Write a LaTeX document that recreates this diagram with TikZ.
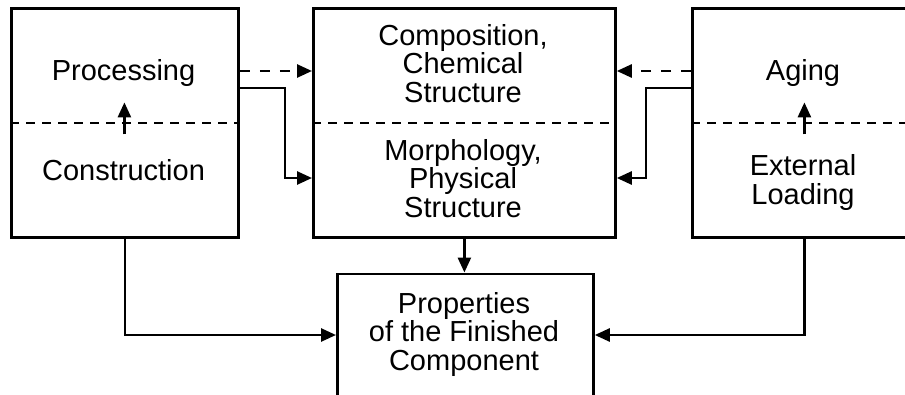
\documentclass[tikz,border=0pt]{standalone}
\usepackage{fontspec}
\setmainfont{Liberation Sans}
\usetikzlibrary{arrows.meta,calc}
\begin{document}
\begin{tikzpicture}[x=1pt,y=-1pt,
  box/.style={draw,line width=2.8pt,inner sep=0pt,anchor=north west},
  lbl/.style={font=\fontsize{29}{28.5}\selectfont,align=center,anchor=base,inner sep=0pt},
  sepline/.style={line width=2.6pt,dash pattern=on 9pt off 7pt},
  link/.style={line width=2.6pt,-{Triangle[length=15pt,width=13pt]}},
  dlink/.style={link,dash pattern=on 10pt off 10pt}]
\useasboundingbox (0,0) rectangle (905,394);
\clip (0,0) rectangle (905,394);
% boxes
\node[box,minimum width=227pt,minimum height=229pt] (L) at (10,7) {};
\node[box,minimum width=302pt,minimum height=229pt] (M) at (312,7) {};
\node[box,minimum width=227pt,minimum height=229pt] (R) at (691,7) {};
\node[box,minimum width=256pt,minimum height=160pt] (B) at (336,272.5) {};
% separators
\draw[sepline] (L.west) -- (L.east);
\draw[sepline] (M.west) -- (M.east);
\draw[sepline] (R.west) -- (R.east);
% labels (base = baseline of last line)
\node[lbl] (proc) at (123.5,80) {Processing};
\node[lbl] (cons) at (123.5,180) {Construction};
\node[lbl] (comp) at (463,102) {Composition,\\Chemical\\Structure};
\node[lbl] (morph) at (463,217) {Morphology,\\Physical\\Structure};
\node[lbl] (aging) at (803,80) {Aging};
\node[lbl] (ext) at (803,204) {External\\Loading};
\node[lbl] (prop) at (464,370) {Properties\\of the Finished\\Component};
% internal arrows
\draw[link] ($(L.center)+(-0.5,11.5)$) -- ($(L.center)+(-0.5,-20.5)$);
\draw[link] ($(R.center)+(-1.5,11.5)$) -- ($(R.center)+(-1.5,-20.5)$);
% connectors
\draw[dlink] ($(L.north east)+(0,64)$) -- ($(M.north west)+(0,64)$);
\draw[dlink] ($(R.north west)+(0,64)$) -- ($(M.north east)+(0,64)$);
\draw[link] ($(L.north east)+(0,81)$) -- ++(45,0) |- ($(M.north west)+(0,171)$);
\draw[link] ($(R.north west)+(0,81)$) -- ++(-45,0) |- ($(M.north east)+(0,171)$);
\draw[link] (M.south) -- (M.south |- B.north);
\draw[link] (L.south) |- ($(B.north west)+(0,62.5)$);
\draw[link] ($(R.south)+(-1.5,0)$) |- ($(B.north east)+(0,62.5)$);
\end{tikzpicture}
\end{document}
